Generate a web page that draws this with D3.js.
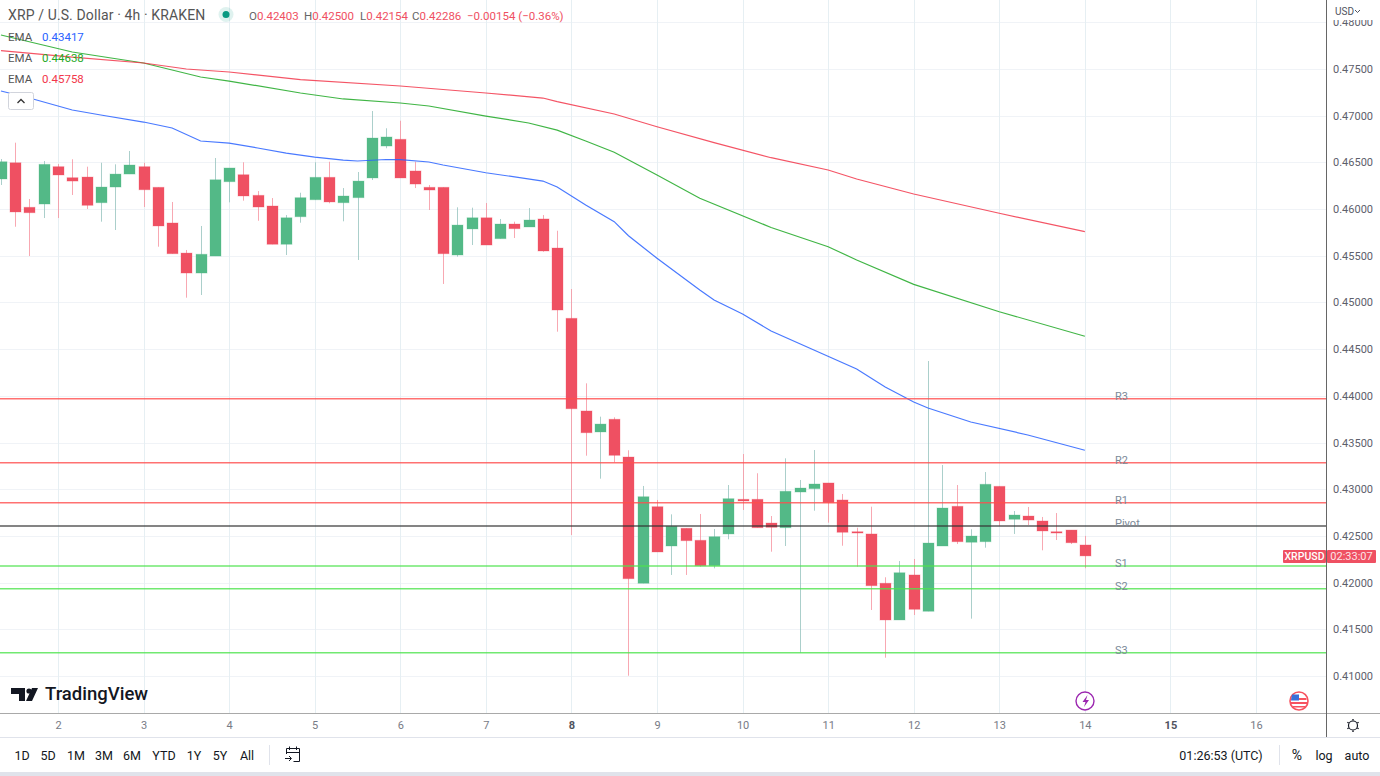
<!DOCTYPE html>
<html>
<head>
<meta charset="utf-8">
<script src="https://cdn.jsdelivr.net/npm/d3@7"></script>
<style>
  html, body { margin: 0; padding: 0; background: #fff; overflow: hidden; }
  svg { display: block; }
  text { font-family: Roboto, "Noto Sans", sans-serif; }
</style>
</head>
<body>
<svg id="chart"></svg>
<script>
// bars are 4h, six a day, bar 0 is the start of day 2
const firstBar = -4;
const opens = [0.46322,0.46496,0.46019,0.46054,0.46454,0.46336,0.46343,0.46068,0.46236,0.46375,0.46454,0.46233,0.45851,0.45529,0.45315,0.45497,0.46293,0.46368,0.46147,0.46033,0.45623,0.45918,0.46100,0.46340,0.46068,0.46122,0.46333,0.46675,0.46747,0.46408,0.46233,0.46233,0.45508,0.45787,0.45907,0.45683,0.45840,0.45808,0.45894,0.45583,0.44830,0.43838,0.43613,0.43749,0.43345,0.41993,0.42813,0.42392,0.42582,0.42453,0.42181,0.42521,0.42892,0.42892,0.42638,0.42588,0.42970,0.43006,0.43067,0.42885,0.42545,0.42521,0.41993,0.41600,0.42082,0.41693,0.42392,0.42817,0.42432,0.42438,0.43031,0.42678,0.42713,0.42660,0.42545,0.42563,0.42403];
const highs = [0.46536,0.46711,0.46108,0.46515,0.46482,0.46533,0.46454,0.46496,0.46479,0.46622,0.46496,0.46233,0.46076,0.45562,0.45819,0.46547,0.46440,0.46501,0.46193,0.46118,0.45936,0.46175,0.46501,0.46507,0.46225,0.46397,0.47050,0.46865,0.46946,0.46507,0.46258,0.46233,0.46019,0.46015,0.46065,0.45894,0.45865,0.46011,0.45936,0.45768,0.45144,0.44134,0.43777,0.43770,0.43417,0.43035,0.42885,0.42731,0.42582,0.42735,0.42574,0.43045,0.43377,0.43171,0.42713,0.43331,0.43099,0.43420,0.43067,0.42949,0.42588,0.42813,0.42057,0.42231,0.42253,0.44373,0.43259,0.43045,0.42571,0.43184,0.43031,0.42767,0.42810,0.42703,0.42745,0.42563,0.42500];
const lows = [0.46258,0.45811,0.45497,0.45904,0.45904,0.46151,0.46001,0.45865,0.45776,0.46375,0.46022,0.45597,0.45522,0.45051,0.45080,0.45497,0.46072,0.46090,0.45875,0.45623,0.45508,0.45854,0.46100,0.46062,0.45869,0.45455,0.46311,0.46651,0.46333,0.46225,0.45990,0.45198,0.45490,0.45615,0.45615,0.45683,0.45690,0.45808,0.45543,0.44687,0.42510,0.43359,0.43113,0.43288,0.41003,0.41993,0.42328,0.42082,0.42082,0.42170,0.42153,0.42464,0.42778,0.42588,0.42331,0.42392,0.41249,0.42770,0.42642,0.42395,0.42170,0.41707,0.41196,0.41600,0.41653,0.41693,0.42392,0.42413,0.41614,0.42374,0.42609,0.42521,0.42617,0.42346,0.42456,0.42413,0.42154];
const closes = [0.46507,0.45969,0.45961,0.46479,0.46365,0.46300,0.46040,0.46236,0.46375,0.46472,0.46207,0.45819,0.45522,0.45315,0.45516,0.46314,0.46440,0.46140,0.46022,0.45623,0.45907,0.46122,0.46340,0.46076,0.46140,0.46300,0.46761,0.46772,0.46333,0.46268,0.46204,0.45522,0.45829,0.45907,0.45615,0.45840,0.45790,0.45883,0.45551,0.44919,0.43862,0.43605,0.43698,0.43363,0.42042,0.42920,0.42328,0.42603,0.42449,0.42181,0.42492,0.42899,0.42874,0.42588,0.42592,0.42978,0.43013,0.43056,0.42856,0.42539,0.42531,0.41967,0.41600,0.42106,0.41714,0.42424,0.42799,0.42438,0.42499,0.43053,0.42660,0.42724,0.42670,0.42553,0.42531,0.42427,0.42286];

// EMA lines, read at these bars
const emaBlueBars = [-4,-2,1,3,6,8,10,12,14,16,18,20,21,23,24,26,27,30,34,35,37,39,40,42,45,46,48,50,53,56,58,60,61,64,68,72];
const emaBlue = [0.47264,0.47189,0.47061,0.47007,0.46932,0.46868,0.46729,0.46707,0.46654,0.46600,0.46557,0.46525,0.46515,0.46531,0.46529,0.46504,0.46472,0.46389,0.46300,0.46236,0.46043,0.45865,0.45715,0.45473,0.45133,0.45026,0.44876,0.44694,0.44491,0.44287,0.44095,0.43934,0.43870,0.43720,0.43581,0.43417];
const emaGreenBars = [-4,1,6,10,12,17,20,24,26,30,33,35,37,39,42,45,50,54,56,60,66,72];
const emaGreen = [0.47864,0.47682,0.47564,0.47414,0.47371,0.47243,0.47179,0.47136,0.47104,0.46996,0.46922,0.46846,0.46729,0.46608,0.46365,0.46115,0.45803,0.45597,0.45455,0.45194,0.44901,0.44638];
const emaRedBars = [-4,1,6,9,12,17,24,30,34,35,39,42,46,50,54,56,60,66,72];
const emaRed = [0.47696,0.47628,0.47564,0.47500,0.47468,0.47387,0.47318,0.47243,0.47189,0.47150,0.47018,0.46882,0.46711,0.46550,0.46418,0.46322,0.46161,0.45955,0.45758];

// pivot levels
const levelNames = ['R3','R2','R1','Pivot','S1','S2','S3'];
const levelValues = [0.43969,0.43284,0.42856,0.42606,0.42178,0.41935,0.41249];
const levelColors = ['#ff4d4d','#ff4d4d','#ff4d4d','#333333','#4ee44e','#4ee44e','#4ee44e'];

const priceTicks = [0.41,0.415,0.42,0.425,0.43,0.435,0.44,0.445,0.45,0.455,0.46,0.465,0.47,0.475,0.48];
const dayTicks = [2,3,4,5,6,7,8,9,10,11,12,13,14,15,16];
const boldDays = [8,15];
const rangeButtons = ['1D','5D','1M','3M','6M','YTD','1Y','5Y','All'];
const rangeButtonX = [22,48,76,104,132,164,194,220,247];

const width = 1380, height = 776;
const plotRight = 1327, plotBottom = 713, axisBottom = 737;
const red = '#ef5062', green = '#53b987';

const svg = d3.select('#chart').attr('width', width).attr('height', height);

const x = d3.scaleLinear().domain([2, 16]).range([58, 1256]);
const y = d3.scaleLinear().domain([0.41, 0.48]).range([676, 22.3]);
const barX = b => x(2 + b / 6);

// grid
svg.append('g').selectAll('line').data(priceTicks).join('line')
  .attr('x1', 0).attr('x2', plotRight)
  .attr('y1', d => Math.round(y(d)) + 0.5).attr('y2', d => Math.round(y(d)) + 0.5)
  .attr('stroke', '#f0f3f7');
svg.append('g').selectAll('line').data(dayTicks).join('line')
  .attr('x1', d => Math.round(x(d)) + 0.5).attr('x2', d => Math.round(x(d)) + 0.5)
  .attr('y1', 0).attr('y2', plotBottom)
  .attr('stroke', '#e6eff3');

// candles
const bars = opens.map((o, i) => ({ bar: firstBar + i, o, h: highs[i], l: lows[i], c: closes[i] }));
const candle = svg.append('g').selectAll('g').data(bars).join('g');
candle.append('line')
  .attr('x1', d => Math.round(barX(d.bar)) + 0.5).attr('x2', d => Math.round(barX(d.bar)) + 0.5)
  .attr('y1', d => y(d.h)).attr('y2', d => y(d.l))
  .attr('stroke', d => d.c >= d.o ? '#8fbfb9' : '#f58b98')
  .attr('stroke-opacity', 0.75);
candle.append('rect')
  .attr('x', d => Math.round(barX(d.bar)) - 5)
  .attr('width', 11)
  .attr('y', d => Math.min(y(d.o), y(d.c)))
  .attr('height', d => Math.max(1.2, Math.abs(y(d.o) - y(d.c))))
  .attr('fill', d => d.c >= d.o ? green : red)
  .attr('stroke', d => d.c >= d.o ? green : red)
  .attr('stroke-opacity', 0.3);

// EMAs
const emaLine = d3.line().x(d => barX(d[0])).y(d => y(d[1]));
[[emaBlueBars, emaBlue, '#2962ff'], [emaGreenBars, emaGreen, '#1fa824'], [emaRedBars, emaRed, '#f2364a']].forEach(([b, v, col]) => {
  svg.append('path')
    .attr('d', emaLine(b.map((d, i) => [d, v[i]])))
    .attr('fill', 'none').attr('stroke', col).attr('stroke-width', 1.2).attr('stroke-opacity', 0.85);
});

// pivot lines and their names
svg.append('g').selectAll('line').data(levelValues).join('line')
  .attr('x1', 0).attr('x2', plotRight)
  .attr('y1', d => y(d)).attr('y2', d => y(d))
  .attr('stroke', (d, i) => levelColors[i]).attr('stroke-width', 1.5).attr('stroke-opacity', 0.8);
svg.append('g').selectAll('text').data(levelValues).join('text')
  .attr('x', 1115).attr('y', d => y(d) + 1)
  .attr('font-size', 11).attr('fill', '#7b8a99')
  .text((d, i) => levelNames[i]);

// price axis
const yAxis = d3.axisRight(y).tickValues(priceTicks).tickSize(0).tickPadding(6).tickFormat(d3.format('.5f'));
const yAxisG = svg.append('g').attr('transform', `translate(${plotRight}, 0)`).call(yAxis);
yAxisG.select('.domain').remove();
yAxisG.selectAll('text').attr('font-size', 11).attr('fill', '#5d606b')
  .attr('font-family', 'Roboto, sans-serif');
svg.append('rect').attr('x', plotRight + 1).attr('y', 0).attr('width', 52).attr('height', 20).attr('fill', '#fff');
svg.append('text').attr('x', 1335).attr('y', 15).attr('font-size', 10).attr('fill', '#50535e').text('USD');
svg.append('path').attr('d', 'M1355 10l2.5 2.5l2.5 -2.5').attr('fill', 'none').attr('stroke', '#50535e');

// time axis
const xAxis = d3.axisBottom(x).tickValues(dayTicks).tickSize(0).tickPadding(8).tickFormat(d3.format('d'));
const xAxisG = svg.append('g').attr('transform', `translate(0, ${plotBottom})`).call(xAxis);
xAxisG.select('.domain').remove();
xAxisG.selectAll('text').attr('font-size', 11).attr('font-family', 'Roboto, sans-serif')
  .attr('fill', d => boldDays.includes(d) ? '#50535e' : '#787b86')
  .attr('font-weight', d => boldDays.includes(d) ? 700 : 400);

// frame
svg.append('line').attr('x1', 0).attr('x2', width).attr('y1', plotBottom + 0.5).attr('y2', plotBottom + 0.5).attr('stroke', '#a9a9a9');
svg.append('line').attr('x1', 0).attr('x2', width).attr('y1', axisBottom + 0.5).attr('y2', axisBottom + 0.5).attr('stroke', '#e0e3eb');
svg.append('line').attr('x1', plotRight - 0.5).attr('x2', plotRight - 0.5).attr('y1', 0).attr('y2', axisBottom).attr('stroke', '#666');
svg.append('rect').attr('x', 0).attr('y', 772).attr('width', width).attr('height', 4).attr('fill', '#e0e3eb');

// last price tags
const lastY = y(closes[closes.length - 1]) ;
svg.append('rect').attr('x', 1283).attr('y', lastY - 6).attr('width', 43).attr('height', 13).attr('rx', 1).attr('fill', red);
svg.append('rect').attr('x', 1327).attr('y', lastY - 6).attr('width', 49).attr('height', 13).attr('rx', 1).attr('fill', red);
svg.append('text').attr('x', 1304.5).attr('y', lastY + 4.5).attr('text-anchor', 'middle').attr('font-size', 10.5).attr('font-weight', 500).attr('fill', '#fff').text('XRPUSD');
svg.append('text').attr('x', 1351.5).attr('y', lastY + 4.5).attr('text-anchor', 'middle').attr('font-size', 11).attr('fill', '#fde3e6').text('02:33:07');

// header legend
svg.append('text').attr('x', 8).attr('y', 20).attr('font-size', 14).attr('letter-spacing', 0.12).attr('fill', '#555').text('XRP / U.S. Dollar · 4h · KRAKEN');
svg.append('circle').attr('cx', 226).attr('cy', 14.5).attr('r', 7.5).attr('fill', '#089981').attr('fill-opacity', 0.13);
svg.append('circle').attr('cx', 226).attr('cy', 14.5).attr('r', 3.5).attr('fill', '#089981');
const ohlc = [['O', 249, '0.42403'], ['H', 304, '0.42500'], ['L', 360, '0.42154'], ['C', 412, '0.42286']];
ohlc.forEach(([k, px, v]) => {
  const t = svg.append('text').attr('x', px).attr('y', 20).attr('font-size', 11.5).attr('fill', '#666').text(k);
  t.append('tspan').attr('fill', red).text(v);
});
svg.append('text').attr('x', 467).attr('y', 20).attr('font-size', 11.5).attr('fill', red).text('−0.00154 (−0.36%)');

const emaRows = [[41, '0.43417', '#2962ff'], [62, '0.44638', '#1fa824'], [83, '0.45758', '#f2364a']];
emaRows.forEach(([py, v, col]) => {
  svg.append('text').attr('x', 8).attr('y', py).attr('font-size', 11.5).attr('fill', '#555').text('EMA');
  svg.append('text').attr('x', 42).attr('y', py).attr('font-size', 11.5).attr('fill', col).text(v);
});
svg.append('rect').attr('x', 8.5).attr('y', 92.5).attr('width', 25).attr('height', 17).attr('rx', 2).attr('fill', '#fff').attr('stroke', '#d1d4dc');
svg.append('path').attr('d', 'M17.5 103l3.5 -3.5l3.5 3.5').attr('fill', 'none').attr('stroke', '#333').attr('stroke-width', 1.3);

// TradingView logo
svg.append('path').attr('fill', '#131722')
  .attr('d', 'M11 688h14v13h-6v-7h-8z M32 688h6l-6 13h-6z');
svg.append('circle').attr('cx', 29).attr('cy', 691).attr('r', 2.6).attr('fill', '#131722');
svg.append('text').attr('x', 45).attr('y', 700).attr('font-size', 18.5).attr('font-weight', 500).attr('fill', '#131722').text('TradingView');

// event markers
svg.append('circle').attr('cx', 1085).attr('cy', 701).attr('r', 9).attr('fill', '#fff').attr('stroke', '#9c27b0').attr('stroke-width', 1.4);
svg.append('path').attr('d', 'M1087.5 695l-5 7h3l-1.5 5l5 -7h-3z').attr('fill', '#9c27b0');
svg.append('circle').attr('cx', 1299).attr('cy', 701).attr('r', 9).attr('fill', '#fff').attr('stroke', '#f7525f').attr('stroke-width', 1.6);
svg.append('path').attr('d', 'M1291.5 698h15v2h-15z M1291 702h16v2h-16z M1293 706h12v1.5h-12z').attr('fill', '#f7525f');
svg.append('path').attr('d', 'M1292 694.5h7v6h-8z').attr('fill', '#3a6fd8');

// settings gear
svg.append('circle').attr('cx', 1353).attr('cy', 725.5).attr('r', 4.5).attr('fill', 'none').attr('stroke', '#131722').attr('stroke-width', 1.2);
svg.append('g').selectAll('line').data([0, 60, 120, 180, 240, 300]).join('line')
  .attr('x1', 1353).attr('y1', 719).attr('x2', 1353).attr('y2', 720.5)
  .attr('transform', d => `rotate(${d} 1353 725.5)`)
  .attr('stroke', '#131722').attr('stroke-width', 1.4);

// bottom toolbar
svg.append('g').selectAll('text').data(rangeButtons).join('text')
  .attr('x', (d, i) => rangeButtonX[i]).attr('y', 759.5)
  .attr('text-anchor', 'middle').attr('font-size', 12.5).attr('fill', '#131722').text(d => d);
svg.append('line').attr('x1', 269.5).attr('x2', 269.5).attr('y1', 745).attr('y2', 765).attr('stroke', '#e0e3eb');
svg.append('path').attr('fill', 'none').attr('stroke', '#131722')
  .attr('d', 'M286.5 754v-5.5h13v13h-6 M286.5 752.5h13 M289.5 746.5v3.5 M296.5 746.5v3.5 M285 758.5h6 M289 756l2.5 2.5l-2.5 2.5');
svg.append('text').attr('x', 1221).attr('y', 759.5).attr('text-anchor', 'middle').attr('font-size', 12.5).attr('fill', '#131722').text('01:26:53 (UTC)');
svg.append('line').attr('x1', 1279.5).attr('x2', 1279.5).attr('y1', 745).attr('y2', 765).attr('stroke', '#e0e3eb');
svg.append('text').attr('x', 1297).attr('y', 760).attr('text-anchor', 'middle').attr('font-size', 14).attr('fill', '#131722').text('%');
svg.append('text').attr('x', 1324).attr('y', 759.5).attr('text-anchor', 'middle').attr('font-size', 12.5).attr('fill', '#131722').text('log');
svg.append('text').attr('x', 1357).attr('y', 759.5).attr('text-anchor', 'middle').attr('font-size', 12.5).attr('fill', '#131722').text('auto');
</script>
</body>
</html>
